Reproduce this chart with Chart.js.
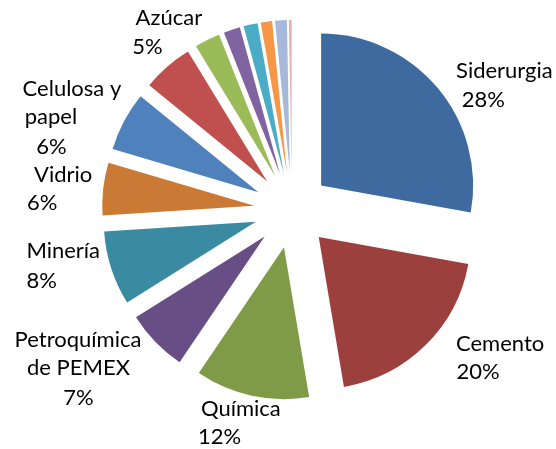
<!DOCTYPE html>
<html><head><meta charset="utf-8">
<script src="https://cdn.jsdelivr.net/npm/chart.js@4/dist/chart.umd.min.js"></script>
<style>html,body{margin:0;padding:0;background:#fff;} canvas{display:block}</style>
</head><body>
<canvas id="c" width="556" height="449"></canvas>
<script>
// ---- data ----
const categories = ['Siderurgia','Cemento','Química','Petroquímica de PEMEX','Minería','Vidrio','Celulosa y papel','Azúcar','Otra 1','Otra 2','Otra 3','Otra 4','Otra 5','Otra 6'];
const values = [27.8, 19.5, 12.1, 6.6, 7.9, 5.6, 6.3, 5.4, 2.7, 1.75, 1.5, 1.2, 1.25, 0.3];
const labelLines = [['Siderurgia'],['Cemento'],['Química'],['Petroquímica','de PEMEX'],['Minería'],['Vidrio'],['Celulosa y','papel'],['Azúcar']];

// ---- styles / layout ----
const colors = ['#3E6A9F','#9C403E','#7F9B47','#674E85','#3A8BA2','#CB7A36','#4F81BD','#C0504D','#9BBB59','#8064A2','#4BACC6','#F79646','#A7B9DA','#E3B3B2'];
const RADIUS = 152, EXPLODE = 38, LABEL_DIST = 200;
const lineOffsets = [
  [[59,-11],[38,18]],
  [[67.5,-8.4],[45.5,20.1]],
  [[-8.7,3.4],[-29.9,31.4]],
  [[-70.3,-9.6],[-69.8,18.4],[-69.8,48.4]],
  [[-38.5,-20.4],[-60,9.6]],
  [[-30.1,-12.7],[-51.1,15.3]],
  [[-43.2,-27.5],[-64.2,0.5],[-63.7,30.5]],
  [[8.3,-41],[-13.2,-12]]
];
const total = values.reduce((a,b)=>a+b,0);

function center(chart){
  const a = chart.chartArea;
  return [(a.left+a.right)/2, (a.top+a.bottom)/2];
}
// explode every slice outward along its bisector
const explode = {
  id:'explode',
  beforeDatasetsDraw(chart){
    const [cx, cy] = center(chart);
    chart.getDatasetMeta(0).data.forEach(arc=>{
      const mid = (arc.startAngle+arc.endAngle)/2;
      arc.x = cx + Math.cos(mid)*EXPLODE;
      arc.y = cy + Math.sin(mid)*EXPLODE;
    });
  }
};
const pieLabels = {
  id:'pieLabels',
  afterDatasetsDraw(chart){
    const ctx = chart.ctx;
    const [cx, cy] = center(chart);
    const arcs = chart.getDatasetMeta(0).data;
    ctx.save();
    ctx.font = '22px Lato';
    ctx.fillStyle = '#000';
    ctx.textAlign = 'center';
    ctx.textBaseline = 'middle';
    labelLines.forEach((lines,i)=>{
      const arc = arcs[i];
      const mid = (arc.startAngle+arc.endAngle)/2;
      const px = cx + Math.cos(mid)*LABEL_DIST, py = cy + Math.sin(mid)*LABEL_DIST;
      const pct = Math.round(values[i]/total*100)+'%';
      lines.concat([pct]).forEach((t,j)=>{
        const o = lineOffsets[i][j];
        ctx.fillText(t, px+o[0], py+o[1]);
      });
    });
    ctx.restore();
  }
};

new Chart(document.getElementById('c'), {
  type:'pie',
  data:{ labels: categories, datasets:[{ data: values, backgroundColor: colors, borderWidth:0, hoverOffset:0, radius: RADIUS }] },
  options:{
    responsive:false, animation:false,
    layout:{ padding:{ left:28, right:0, top:0, bottom:29 } },
    plugins:{ legend:{display:false}, tooltip:{enabled:false} },
    events: []
  },
  plugins:[explode, pieLabels]
});
</script>
</body></html>
